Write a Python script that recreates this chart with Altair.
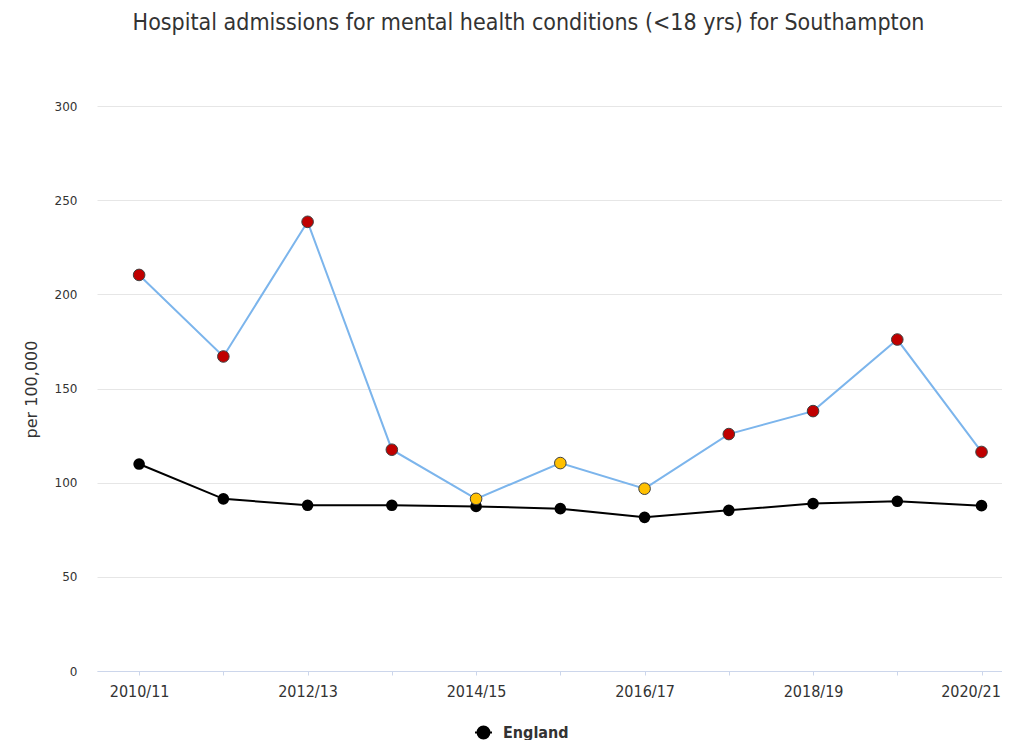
import json
import altair as alt
import pandas as pd

# ---- data ----
years = ["2010/11", "2011/12", "2012/13", "2013/14", "2014/15", "2015/16",
         "2016/17", "2017/18", "2018/19", "2019/20", "2020/21"]
southampton = [210.3, 167.0, 238.5, 117.5, 91.4, 110.4, 96.8, 125.8, 138.0, 176.0, 116.3]
southampton_status = ["Worse", "Worse", "Worse", "Worse", "Similar", "Similar",
                      "Similar", "Worse", "Worse", "Worse", "Worse"]
england = [109.9, 91.4, 88.0, 88.0, 87.4, 86.2, 81.6, 85.3, 88.9, 90.1, 87.8]
y_ticks = [0, 50, 100, 150, 200, 250, 300]

south_df = pd.DataFrame({
    "idx": list(range(len(years))),
    "year": years,
    "value": southampton,
    "status": southampton_status,
})
eng_df = pd.DataFrame({
    "idx": list(range(len(years))),
    "year": years,
    "value": england,
    "series": ["England"] * len(years),
})

FONT_C = "DejaVu Sans Condensed, Liberation Sans Narrow, DejaVu Sans"
FONT = "DejaVu Sans"

last = len(years) - 1
label_expr = "datum.value % 2 == 0 ? " + json.dumps(years) + "[datum.value] : ''"

x_enc = alt.X(
    "idx:Q",
    scale=alt.Scale(domain=[-0.5, 10.243], nice=False, zero=False),
    axis=alt.Axis(
        title=None, values=list(range(len(years))), labelExpr=label_expr,
        grid=False, domainColor="#ccd6eb", tickColor="#ccd6eb", tickSize=4,
        labelFont=FONT_C, labelFontSize=16, labelColor="#333333",
        labelBaseline="alphabetic", labelPadding=21, labelFlush=False,
        labelOverlap=False,
        labelOffset={"condition": {"test": f"datum.value == {last}", "value": -11},
                     "value": 0},
    ),
)
y_enc = alt.Y(
    "value:Q",
    scale=alt.Scale(domain=[0, 300], nice=False),
    axis=alt.Axis(
        title="per 100,000", values=y_ticks, grid=True, gridColor="#e6e6e6",
        domain=False, ticks=False, labelPadding=20, labelFont=FONT,
        labelFontSize=12, labelColor="#333333",
        titleFont=FONT, titleFontSize=16, titleColor="#333333",
        titleFontWeight="normal", titleAngle=270, titleX=-66, titleY=283,
        titleAlign="center", titleBaseline="middle",
    ),
)

south_line = alt.Chart(south_df).mark_line(color="#7cb5ec", strokeWidth=2).encode(
    x=x_enc, y=y_enc
)
south_pts = alt.Chart(south_df).mark_point(
    filled=True, size=135, stroke="#404040", strokeWidth=1, opacity=1
).encode(
    x=x_enc, y=y_enc,
    fill=alt.Fill("status:N", scale=alt.Scale(domain=["Worse", "Similar"],
                                              range=["#c00000", "#ffc000"]),
                  legend=None),
)

legend_symbol = ("M-1,0L1,0M0.7,0A0.7,0.7 0 1,1 -0.7,0A0.7,0.7 0 1,1 0.7,0Z")
color_enc = alt.Color(
    "series:N",
    scale=alt.Scale(domain=["England"], range=["#000000"]),
    legend=alt.Legend(
        title=None, orient="none", legendX=377, legendY=617,
        symbolType=legend_symbol, symbolSize=289, symbolStrokeWidth=2,
        symbolFillColor="#000000", symbolStrokeColor="#000000",
        labelFont=FONT_C, labelFontSize=16, labelFontWeight="bold",
        labelColor="#333333", labelOffset=10, padding=0,
    ),
)
eng_line = alt.Chart(eng_df).mark_line(strokeWidth=2).encode(
    x=x_enc, y=y_enc, color=color_enc
)
eng_pts = alt.Chart(eng_df).mark_circle(size=135, opacity=1).encode(
    x=x_enc, y=y_enc, color=color_enc
)

chart = alt.layer(south_line, eng_line, eng_pts, south_pts).properties(
    width=905,
    height=565,
    title=alt.TitleParams(
        "Hospital admissions for mental health conditions (<18 yrs) for Southampton",
        font=FONT_C, fontSize=23, fontWeight="normal", color="#333333",
        anchor="middle", dx=-21, offset=47, baseline="alphabetic",
    ),
    padding={"left": 89, "top": 98, "right": 0, "bottom": 70},
    autosize=alt.AutoSizeParams(type="none"),
).configure(background="white").configure_view(stroke=None)

chart.save("out.html", embed_options={"renderer": "svg", "actions": False})
